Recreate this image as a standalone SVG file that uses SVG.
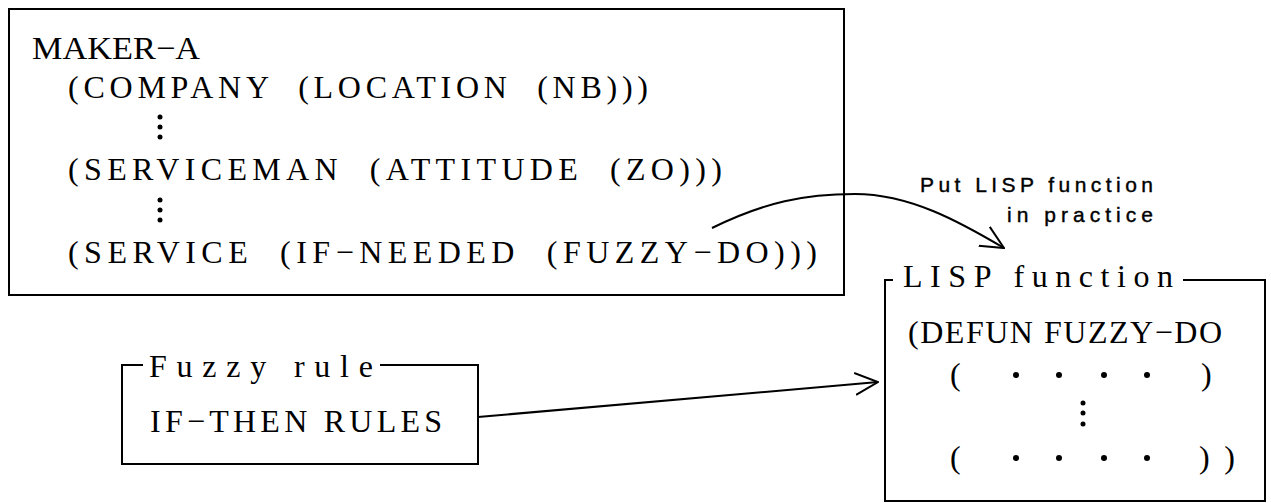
<svg xmlns="http://www.w3.org/2000/svg" width="1271" height="503" viewBox="0 0 1271 503">
<style>
.box{fill:none;stroke:#000;stroke-width:2}
.t{font-family:"Liberation Serif",serif;font-size:32px;fill:#000}
.lbl{font-family:"Liberation Sans",sans-serif;font-size:21px;fill:#000;stroke:#000;stroke-width:0.4}
.con{fill:none;stroke:#000;stroke-width:2;marker-end:url(#arr)}
.dot{fill:#000}
</style>
<defs>
<marker id="arr" viewBox="0 0 24 24" markerUnits="userSpaceOnUse" markerWidth="24" markerHeight="24" refX="23" refY="12" orient="auto">
<path d="M0,1 L23,12 L0,23" fill="none" stroke="#000" stroke-width="2"/>
</marker>
</defs>
<rect width="1271" height="503" fill="#fff"/>
<g id="maker-a">
<rect class="box" x="9" y="9" width="835" height="286"/>
<text class="t" x="32" y="59" textLength="168" lengthAdjust="spacingAndGlyphs">MAKER−A</text>
<text class="t" x="68" y="98" textLength="580" lengthAdjust="spacing" xml:space="preserve">(COMPANY  (LOCATION  (NB)))</text>
<circle class="dot" cx="160" cy="117" r="2.5"/><circle class="dot" cx="160" cy="127" r="2.5"/><circle class="dot" cx="160" cy="137" r="2.5"/>
<text class="t" x="68" y="180" textLength="654" lengthAdjust="spacing" xml:space="preserve">(SERVICEMAN  (ATTITUDE  (ZO)))</text>
<circle class="dot" cx="160" cy="200" r="2.5"/><circle class="dot" cx="160" cy="210" r="2.5"/><circle class="dot" cx="160" cy="220" r="2.5"/>
<text class="t" x="68" y="263" textLength="749" lengthAdjust="spacing" xml:space="preserve">(SERVICE  (IF−NEEDED  (FUZZY−DO)))</text>
</g>
<g id="fuzzy-rule">
<path class="box" d="M143,365 H122 V464 H478 V365 H380"/>
<text class="t" x="149" y="377" textLength="224" lengthAdjust="spacing">Fuzzy rule</text>
<text class="t" x="150" y="432" textLength="292" lengthAdjust="spacing">IF−THEN RULES</text>
</g>
<g id="lisp-function">
<path class="box" d="M893,280 H885 V501 H1265 V280 H1183"/>
<text class="t" x="903" y="287" textLength="270" lengthAdjust="spacing">LISP function</text>
<text class="t" x="908" y="343" textLength="314" lengthAdjust="spacing">(DEFUN FUZZY−DO</text>
<text class="t" x="950" y="385">(</text>
<circle class="dot" cx="1016" cy="375" r="3"/><circle class="dot" cx="1059" cy="375" r="3"/><circle class="dot" cx="1104" cy="375" r="3"/><circle class="dot" cx="1147" cy="375" r="3"/>
<text class="t" x="1201" y="385">)</text>
<circle class="dot" cx="1083" cy="403" r="2.5"/><circle class="dot" cx="1083" cy="413" r="2.5"/><circle class="dot" cx="1083" cy="424" r="2.5"/>
<text class="t" x="950" y="468">(</text>
<circle class="dot" cx="1016" cy="458" r="3"/><circle class="dot" cx="1059" cy="458" r="3"/><circle class="dot" cx="1104" cy="458" r="3"/><circle class="dot" cx="1147" cy="458" r="3"/>
<text class="t" x="1199" y="468" textLength="36" lengthAdjust="spacing">))</text>
</g>
<g id="connectors">
<path class="con" d="M712,228 C765,202 805,194 855,194 C910,194 960,222 1004,248"/>
<text class="lbl" x="920" y="192" textLength="233" lengthAdjust="spacing">Put LISP function</text>
<text class="lbl" x="1007" y="222" textLength="146" lengthAdjust="spacing">in practice</text>
<path class="con" d="M478,417 L878,382"/>
</g>
</svg>
